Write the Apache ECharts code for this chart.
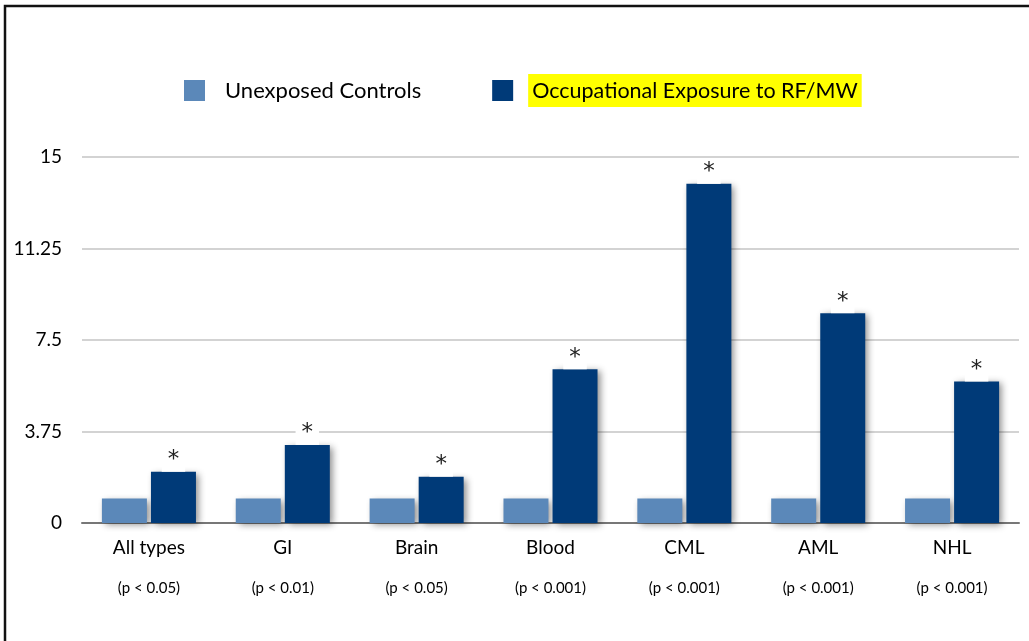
<!DOCTYPE html>
<html>
<head>
<meta charset="utf-8">
<script src="https://cdn.jsdelivr.net/npm/echarts@6/dist/echarts.min.js"></script>
<style>
html,body{margin:0;padding:0;background:#fff;}
#c{width:1029px;height:641px;}
</style>
</head>
<body>
<div id="c"></div>
<script>
var categories = ['All types', 'GI', 'Brain', 'Blood', 'CML', 'AML', 'NHL'];
var pValues = ['(p < 0.05)', '(p < 0.01)', '(p < 0.05)', '(p < 0.001)', '(p < 0.001)', '(p < 0.001)', '(p < 0.001)'];
var controls = [1, 1, 1, 1, 1, 1, 1];
var exposed = [2.1, 3.2, 1.9, 6.3, 13.9, 8.6, 5.8];
var yTicks = [0, 3.75, 7.5, 11.25, 15];
var seriesNames = ['Unexposed Controls', 'Occupational Exposure to RF/MW'];

var FONT = 'Lato';
var chart = echarts.init(document.getElementById('c'), null, {renderer: 'canvas'});
var option = {
  backgroundColor: '#fff',
  animation: false,
  textStyle: {fontFamily: FONT, color: '#000'},
  graphic: [
    {type: 'polyline', silent: true, shape: {points: [[5, 641], [5, 6], [1029, 6]]},
     style: {stroke: '#111', lineWidth: 2.5, fill: null}}
  ],
  legend: {
    data: seriesNames,
    left: 184,
    top: 74,
    padding: 0,
    itemWidth: 21,
    itemHeight: 21,
    itemGap: 71,
    icon: 'rect',
    selectedMode: false,
    formatter: function (name) {
      if (name === seriesNames[1]) return '{s|}{h|' + name + '}';
      return '{s|}{n|' + name + '}';
    },
    textStyle: {
      fontFamily: FONT,
      fontSize: 22,
      color: '#000',
      rich: {
        s: {width: 10},
        n: {fontFamily: FONT, fontSize: 22, color: '#000', padding: [0, 0, 0, 5]},
        h: {fontFamily: FONT, fontSize: 21.5, color: '#000', backgroundColor: '#ffff00', padding: [6, 4, 5, 4]}
      }
    }
  },
  grid: {left: 82, right: 10, top: 157, bottom: 118, containLabel: false},
  xAxis: {
    type: 'category',
    data: categories,
    axisTick: {show: false},
    axisLine: {show: true, lineStyle: {color: '#777', width: 2}},
    axisLabel: {
      margin: 9,
      interval: 0,
      formatter: function (v, i) {
        return '{n|' + v + '}\n{p|' + pValues[i] + '}';
      },
      rich: {
        n: {fontFamily: FONT, fontSize: 19, color: '#000', lineHeight: 32},
        p: {fontFamily: FONT, fontSize: 15, color: '#000', lineHeight: 48}
      }
    }
  },
  yAxis: {
    type: 'value',
    min: yTicks[0],
    max: yTicks[yTicks.length - 1],
    interval: yTicks[1] - yTicks[0],
    axisLine: {show: false},
    axisTick: {show: false},
    axisLabel: {margin: 20, fontFamily: FONT, fontSize: 19, color: '#000',
      formatter: function (v) { return String(v); }},
    splitLine: {lineStyle: {color: '#c4c4c4', width: 1.5}}
  },
  series: [
    {
      name: seriesNames[0],
      type: 'bar',
      data: controls,
      barWidth: 45,
      barGap: '9%',
      itemStyle: {color: '#5b88b9', shadowColor: 'rgba(0,0,0,0.45)', shadowBlur: 7, shadowOffsetX: 3, shadowOffsetY: 2}
    },
    {
      name: seriesNames[1],
      type: 'bar',
      data: exposed,
      barWidth: 45,
      itemStyle: {color: '#003a78', shadowColor: 'rgba(0,0,0,0.45)', shadowBlur: 7, shadowOffsetX: 3, shadowOffsetY: 2},
      label: {
        show: true,
        position: 'top',
        distance: 0,
        formatter: '*',
        fontFamily: 'DejaVu Sans',
        fontSize: 23,
        color: '#222',
        backgroundColor: '#fff',
        padding: [2, 6, 0, 6]
      }
    }
  ]
};
chart.setOption(option);
</script>
</body>
</html>
